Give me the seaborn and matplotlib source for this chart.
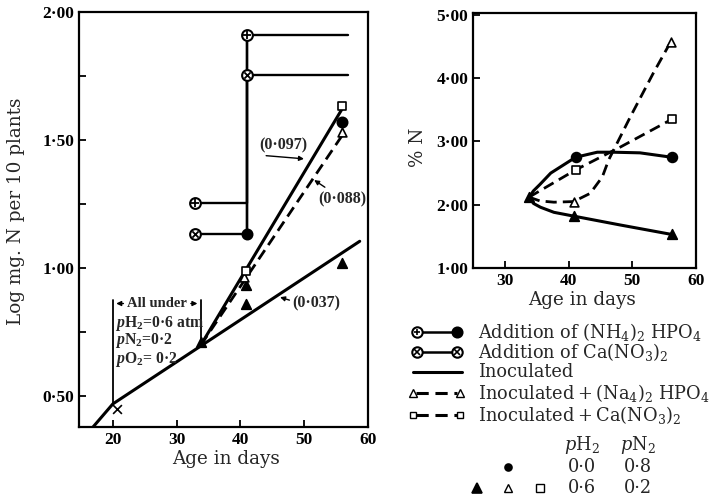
import numpy as np
import pandas as pd
import matplotlib
matplotlib.use("Agg")
import matplotlib.pyplot as plt
from matplotlib.lines import Line2D
from matplotlib.ticker import FixedLocator, FuncFormatter
import seaborn as sns

# ---------------- data ----------------
# Left panel: log mg N per 10 plants
inoc_x = [16.9, 20.0, 58.7]
inoc_y = [0.38, 0.47, 1.105]
sq_line_x = [33.8, 55.9]          # (0.097) solid
sq_line_y = [0.70, 1.62]
tri_line_x = [33.8, 56.0]         # (0.088) dashed
tri_line_y = [0.70, 1.52]
nh4_step_x = [32.9, 41.0, 41.0, 56.8]
nh4_step_y = [1.255, 1.255, 1.91, 1.91]
ca_step_x = [32.9, 41.0, 41.0, 56.8]
ca_step_y = [1.133, 1.133, 1.755, 1.755]
vert_x = [41.0, 41.0]
vert_y = [1.133, 1.91]
nh4_pts_x = [32.9, 41.0]
nh4_pts_y = [1.255, 1.91]
ca_pts_x = [32.9, 41.0]
ca_pts_y = [1.133, 1.755]
cross_x = [20.6]
cross_y = [0.452]
ftri_x = [33.8, 40.9, 40.9, 56.0]
ftri_y = [0.71, 0.935, 0.86, 1.02]
otri_x = [40.6, 56.0]
otri_y = [0.965, 1.53]
osq_x = [40.8, 55.9]
osq_y = [0.99, 1.635]
fcirc_x = [41.0, 56.0]
fcirc_y = [1.133, 1.57]

# Right panel: % N
r_nh4_x = [33.8, 34.5, 35.5, 37.2, 41.1, 44.5, 47.0, 51.2, 56.2]
r_nh4_y = [2.12, 2.22, 2.32, 2.50, 2.75, 2.83, 2.83, 2.82, 2.75]
r_inoc_x = [33.8, 34.5, 35.6, 37.7, 40.8, 48.1, 56.2]
r_inoc_y = [2.12, 2.02, 1.96, 1.88, 1.82, 1.68, 1.53]
r_otri_x = [33.8, 35.5, 37.7, 40.8, 43.4, 45.3, 46.3, 47.3, 49.7, 53.3, 55.9]
r_otri_y = [2.12, 2.06, 2.04, 2.05, 2.18, 2.44, 2.71, 2.91, 3.39, 4.08, 4.55]
r_osq_x = [33.8, 41.1, 48.1, 56.2]
r_osq_y = [2.12, 2.55, 2.91, 3.35]
r_ftri_x = [33.8, 40.8, 56.2]
r_ftri_y = [2.12, 1.82, 1.53]
r_fcirc_x = [41.1, 56.2]
r_fcirc_y = [2.75, 2.75]
r_otri_pts_x = [40.8, 56.0]
r_otri_pts_y = [2.05, 4.57]
r_osq_pts_x = [41.1, 56.2]
r_osq_pts_y = [2.55, 3.35]

left_yticks = [0.50, 1.00, 1.50, 2.00]
left_yminor = [0.75, 1.25, 1.75]
left_xticks = [20, 30, 40, 50, 60]
right_yticks = [1.00, 2.00, 3.00, 4.00, 5.00]
right_xticks = [30, 40, 50, 60]

legend_labels = [
    r"Addition of (NH$_4$)$_2$ HPO$_4$",
    r"Addition of Ca(NO$_3$)$_2$",
    "Inoculated",
    "Inoculated\u2009+\u2009(Na$_4$)$_2$ HPO$_4$",
    "Inoculated\u2009+\u2009Ca(NO$_3$)$_2$",
]

# ---------------- style ----------------
sns.set_theme(style="ticks")
plt.rcParams["font.family"] = ["DejaVu Serif", "Liberation Serif"]
plt.rcParams["mathtext.fontset"] = "custom"
plt.rcParams["mathtext.rm"] = "Liberation Serif"
plt.rcParams["mathtext.it"] = "Liberation Serif:italic"
plt.rcParams["mathtext.bf"] = "Liberation Serif:bold"
plt.rcParams["mathtext.bfit"] = "Liberation Serif:bold:italic"

SERIF_B = ["Liberation Serif", "DejaVu Serif"]
K = "black"
W = 713
H = 499
LAB = 13.2
fig = plt.figure(figsize=(7.13, 4.99), dpi=100)
fig.patch.set_facecolor("white")

def fx(px):
    return px / W

def fy(py):
    return 1 - py / H

axL = fig.add_axes([fx(79), fy(427), fx(368) - fx(79), fy(12) - fy(427)])
axR = fig.add_axes([fx(473), fy(268), fx(696) - fx(473), fy(13) - fy(268)])

dotfmt = FuncFormatter(lambda v, p: f"{v:.2f}".replace(".", "\u00b7"))
intfmt = FuncFormatter(lambda v, p: f"{int(round(v))}")

def line(ax, x, y, ls="-", lw=2.0):
    sns.lineplot(x=x, y=y, ax=ax, color=K, lw=lw, linestyle=ls,
                 sort=False, estimator=None, zorder=2)

def pts(ax, x, y, marker, fill=True, s=50, lw=1.2, z=4):
    sns.scatterplot(x=x, y=y, ax=ax, marker=marker, s=s,
                    color=K if fill else "white", edgecolor=K,
                    linewidth=lw, zorder=z)

def oplus(ax, x, y, cross="+"):
    pts(ax, x, y, "o", fill=False, s=60, lw=1.5, z=5)
    sns.scatterplot(x=x, y=y, ax=ax, marker=cross, s=28 if cross == "+" else 20,
                    color=K, linewidth=1.3, zorder=6)

# ---------------- left panel ----------------
line(axL, inoc_x, inoc_y, lw=2.2)
line(axL, sq_line_x, sq_line_y, lw=2.2)
line(axL, tri_line_x, tri_line_y, ls=(0, (4, 2.2)), lw=2.0)
line(axL, nh4_step_x, nh4_step_y, lw=1.7)
line(axL, ca_step_x, ca_step_y, lw=1.7)
line(axL, vert_x, vert_y, lw=1.7)
oplus(axL, nh4_pts_x, nh4_pts_y, "+")
oplus(axL, ca_pts_x, ca_pts_y, "x")
sns.scatterplot(x=cross_x, y=cross_y, ax=axL, marker="x", s=40, color=K, linewidth=1.2)
pts(axL, ftri_x, ftri_y, "^", s=48)
pts(axL, otri_x, otri_y, "^", fill=False, s=40)
pts(axL, osq_x, osq_y, "s", fill=False, s=30)
pts(axL, fcirc_x, fcirc_y, "o", s=55)

axL.set_xlim(14.7, 60)
axL.set_ylim(0.38, 2.0)
axL.xaxis.set_major_locator(FixedLocator(left_xticks))
axL.xaxis.set_major_formatter(intfmt)
axL.yaxis.set_major_locator(FixedLocator(left_yticks))
axL.yaxis.set_minor_locator(FixedLocator(left_yminor))
axL.yaxis.set_major_formatter(dotfmt)

# bracket "All under"
axL.plot([20, 20], [0.47, 0.875], color=K, lw=1.3)
axL.plot([33.8, 33.8], [0.72, 0.875], color=K, lw=1.3)
axL.text(26.9, 0.862, "All under", ha="center", va="center", fontsize=10.5,
         fontweight="bold", family=SERIF_B)
arr = dict(arrowstyle="-|>", color=K, lw=1.0, mutation_scale=7)
axL.annotate("", xy=(20.1, 0.862), xytext=(22.1, 0.862), arrowprops=arr)
axL.annotate("", xy=(33.7, 0.862), xytext=(31.8, 0.862), arrowprops=arr)
for yy, s in [(0.785, r"$\mathbfit{p}$H$_\mathbf{2}$=0·6 atm"),
              (0.717, r"$\mathbfit{p}$N$_\mathbf{2}$=0·2"),
              (0.645, r"$\mathbfit{p}$O$_\mathbf{2}$= 0·2")]:
    axL.text(20.3, yy, s, ha="left", va="center", fontsize=11.3, fontweight="bold",
             family=SERIF_B)

# slope annotations
akw = dict(ha="center", va="center", fontsize=11.5, fontweight="bold", family=SERIF_B)
axL.text(46.7, 1.478, "(0·097)", **akw)
axL.annotate("", xy=(50.4, 1.426), xytext=(43.6, 1.44), arrowprops=arr)
axL.text(55.9, 1.27, "(0·088)", **akw)
axL.annotate("", xy=(51.2, 1.35), xytext=(53.6, 1.31), arrowprops=arr)
axL.text(51.9, 0.862, "(0·037)", **akw)
axL.annotate("", xy=(45.8, 0.89), xytext=(48.1, 0.872), arrowprops=arr)

axL.set_xlabel("Age in days", fontsize=LAB)
axL.set_ylabel("Log mg. N per 10 plants", fontsize=LAB)
axL.xaxis.set_label_coords(0.51, -0.056)
axL.yaxis.set_label_coords(-0.187, 0.52)

# ---------------- right panel ----------------
line(axR, r_nh4_x, r_nh4_y, lw=2.2)
line(axR, r_inoc_x, r_inoc_y, lw=2.2)
line(axR, r_otri_x, r_otri_y, ls=(0, (4, 2.2)), lw=2.0)
line(axR, r_osq_x, r_osq_y, ls=(0, (4, 2.2)), lw=2.0)
pts(axR, r_ftri_x, r_ftri_y, "^", s=48)
pts(axR, r_fcirc_x, r_fcirc_y, "o", s=50)
pts(axR, r_otri_pts_x, r_otri_pts_y, "^", fill=False, s=40)
pts(axR, r_osq_pts_x, r_osq_pts_y, "s", fill=False, s=28)

axR.set_xlim(25, 60)
axR.set_ylim(1.0, 5.03)
axR.xaxis.set_major_locator(FixedLocator(right_xticks))
axR.xaxis.set_major_formatter(intfmt)
axR.yaxis.set_major_locator(FixedLocator(right_yticks))
axR.yaxis.set_major_formatter(dotfmt)
axR.set_xlabel("Age in days", fontsize=LAB)
axR.set_ylabel("% N", fontsize=LAB)
axR.xaxis.set_label_coords(0.49, -0.092)
axR.yaxis.set_label_coords(-0.206, 0.475)

for ax in (axL, axR):
    for sp in ax.spines.values():
        sp.set_visible(True)
        sp.set_linewidth(1.6)
        sp.set_color(K)
    ax.tick_params(which="both", direction="in", colors=K, labelsize=12.5, width=1.3)
    ax.tick_params(which="major", length=5)
    ax.tick_params(which="minor", length=5)
    for lab in ax.get_xticklabels() + ax.get_yticklabels():
        lab.set_fontweight("bold")
        lab.set_family(SERIF_B)
    ax.set_facecolor("white")

# ---------------- legend (drawn in figure space) ----------------
def fline(x0, x1, py, ls="-", lw=1.8):
    fig.add_artist(Line2D([fx(x0), fx(x1)], [fy(py), fy(py)], color=K, lw=lw, linestyle=ls))

def fmark(px, py, marker, fill=True, ms=7, mew=1.2):
    fig.add_artist(Line2D([fx(px)], [fy(py)], marker=marker, ms=ms, mew=mew, color=K,
                          mfc=K if fill else "white", mec=K, linestyle="none"))

def fop(px, py, cross):
    fmark(px, py, "o", fill=False, ms=7.5, mew=1.5)
    fmark(px, py, cross, ms=5 if cross == "+" else 4, mew=1.2)

def ftext(px, py, s, ha="left"):
    fig.text(fx(px), fy(py), s, ha=ha, va="center", fontsize=12.8,
             math_fontfamily="dejavuserif")

rows = [332, 352, 372, 393, 415]
fline(417, 457, rows[0]); fop(417, rows[0], "+"); fmark(457, rows[0], "o", ms=7.5)
fline(417, 457, rows[1]); fop(417, rows[1], "x"); fop(457, rows[1], "x")
fline(413, 462, rows[2], lw=2.2)
fline(416, 457, rows[3], ls=(0, (4, 2.2)), lw=2.2); fmark(413, rows[3], "^", False, 5.5, 1.0); fmark(460, rows[3], "^", False, 5.5, 1.0)
fline(416, 457, rows[4], ls=(0, (4, 2.2)), lw=2.2); fmark(413, rows[4], "s", False, 5, 1.0); fmark(460, rows[4], "s", False, 5, 1.0)
for py, lab in zip(rows, legend_labels):
    ftext(478, py, lab)

ftext(582, 445, r"$p$H$_2$", ha="center")
ftext(638, 445, r"$p$N$_2$", ha="center")
fmark(508, 467, "o", ms=5)
ftext(582, 467, "0·0", ha="center")
ftext(638, 467, "0·8", ha="center")
fmark(477, 488, "^", ms=6.5)
fmark(508, 488, "^", False, 5.5, 1.0)
fmark(540, 488, "s", False, 5.5, 1.0)
ftext(582, 488, "0·6", ha="center")
ftext(638, 488, "0·2", ha="center")

fig.savefig("out.png", dpi=100, facecolor="white")
